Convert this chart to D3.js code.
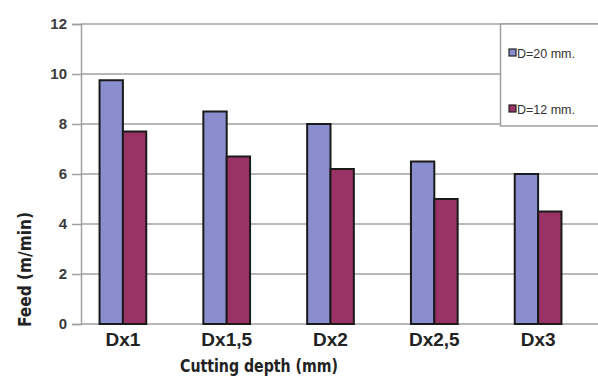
<!DOCTYPE html>
<html><head><meta charset="utf-8">
<script src="https://cdn.jsdelivr.net/npm/d3@7"></script>
<style>body{margin:0;background:#fff}svg{display:block}</style>
</head><body>
<svg id="c" width="598" height="380"></svg>
<script>
const categories = ["Dx1","Dx1,5","Dx2","Dx2,5","Dx3"];
const seriesNames = ["D=20 mm.","D=12 mm."];
const d20 = [9.75, 8.5, 8.0, 6.5, 6.0];
const d12 = [7.7, 6.7, 6.2, 5.0, 4.5];
const yTicks = [0,2,4,6,8,10,12];
const colors = ["#8a8ecf","#993366"];

(function(){
const svg = d3.select("#c");
const plotL = 81, plotR = 598, plotTop = 24, plotBottom = 324;
const x = d3.scaleBand().domain(categories).range([71, 590]).paddingInner(0.55).paddingOuter(0.275);
const xs = d3.scaleBand().domain([0,1]).range([0, x.bandwidth()]);
const y = d3.scaleLinear().domain([0,12]).range([plotBottom, plotTop]);

// gridlines
svg.append("g").selectAll("line").data(yTicks).join("line")
  .attr("x1", plotL).attr("x2", plotR)
  .attr("y1", d=>y(d)).attr("y2", d=>y(d))
  .attr("stroke", "#a0a0a0").attr("stroke-width", 1.5);

// y axis
const ya = svg.append("g").attr("transform", `translate(${plotL},0)`)
  .call(d3.axisLeft(y).tickValues(yTicks).tickSize(9).tickPadding(5));
ya.select(".domain").attr("stroke","#a0a0a0").attr("stroke-width",1.5);
ya.selectAll(".tick line").attr("stroke","#a0a0a0").attr("stroke-width",1.5);
ya.selectAll(".tick text").attr("font-family","Liberation Sans, Arial, sans-serif")
  .attr("font-size",15).attr("font-weight","bold").attr("fill","#3a3a3a");

// bars
const data = categories.map((c,i)=>({c, v:[d20[i], d12[i]]}));
const g = svg.append("g").selectAll("g").data(data).join("g")
  .attr("transform", d=>`translate(${x(d.c)},0)`);
g.selectAll("rect").data(d=>d.v.map((v,k)=>({v,k}))).join("rect")
  .attr("x", d=>xs(d.k)).attr("width", xs.bandwidth())
  .attr("y", d=>y(d.v)).attr("height", d=>y(0)-y(d.v))
  .attr("fill", d=>colors[d.k]).attr("stroke","#1a1a1a").attr("stroke-width",2);

// x axis labels
const xa = svg.append("g").attr("transform", `translate(0,${plotBottom})`)
  .call(d3.axisBottom(x).tickSize(0).tickPadding(9));
xa.select(".domain").remove();
xa.selectAll(".tick text").attr("font-family","Liberation Sans, Arial, sans-serif")
  .attr("font-size",19).attr("font-weight","bold").attr("fill","#222");

// axis titles
svg.append("text").attr("x", 180).attr("y", 372)
  .attr("font-family","Liberation Sans Narrow, DejaVu Sans Condensed, sans-serif")
  .attr("font-stretch","condensed")
  .attr("textLength",158).attr("lengthAdjust","spacingAndGlyphs")
  .attr("font-size",18.5).attr("font-weight","bold").attr("fill","#222")
  .text("Cutting depth (mm)");
svg.append("text").attr("transform","translate(31,327) rotate(-90)")
  .attr("font-family","Liberation Sans Narrow, DejaVu Sans Condensed, sans-serif")
  .attr("font-stretch","condensed")
  .attr("textLength",115).attr("lengthAdjust","spacingAndGlyphs")
  .attr("font-size",18.5).attr("font-weight","bold").attr("fill","#222")
  .text("Feed (m/min)");

// legend
const lg = svg.append("g");
lg.append("rect").attr("x",500.5).attr("y",y(12)).attr("width",100).attr("height",102)
  .attr("fill","#fff").attr("stroke","#a0a0a0").attr("stroke-width",1.5);
const li = lg.selectAll("g.li").data(seriesNames).join("g").attr("class","li")
  .attr("transform",(d,i)=>`translate(509,${53 + i*56})`);
li.append("rect").attr("x",0).attr("y",-4).attr("width",7).attr("height",7)
  .attr("fill",(d,i)=>colors[i]).attr("stroke","#222").attr("stroke-width",1.2);
li.append("text").attr("x",8).attr("y",4.5).attr("font-family","Liberation Sans, Arial, sans-serif")
  .attr("font-size",12.5).attr("fill","#333").text(d=>d);
})();
</script>
</body></html>
